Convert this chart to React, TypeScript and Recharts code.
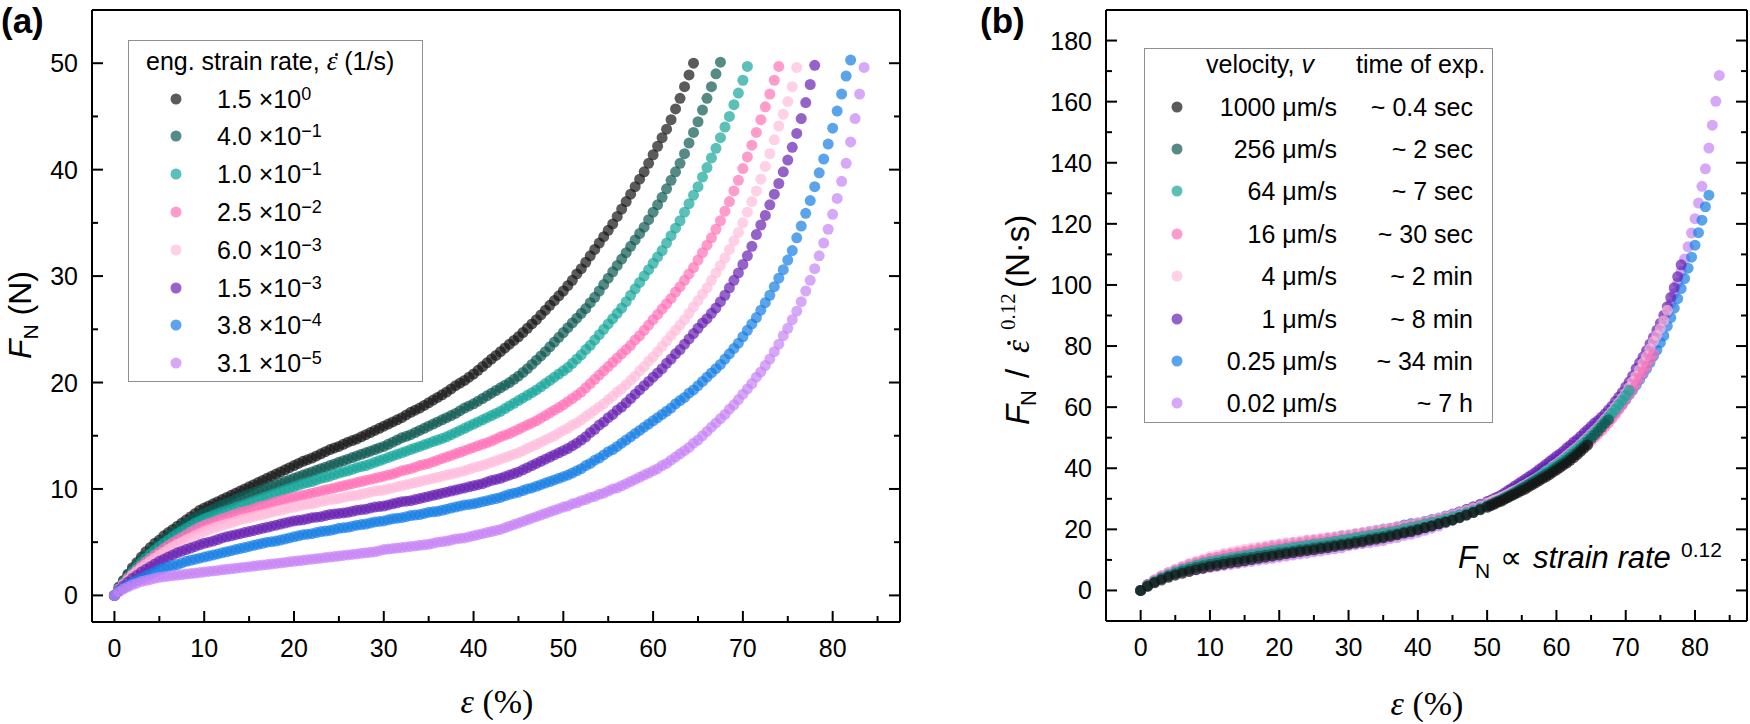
import React from "react";
import { Legend, Scatter, ScatterChart, XAxis, YAxis } from "recharts";

const SANS = "'Liberation Sans', Arial, sans-serif";
const SERIF = "'Liberation Serif', 'Times New Roman', serif";

// engineering strain (%) of each sample in panel (a)
const STRAIN_A = [
  0, 0.5, 1, 1.5, 2, 2.5, 3, 3.5, 4, 4.5, 5, 5.5, 6, 6.5, 7, 7.5, 8, 8.5, 9, 9.5,
  10, 10.5, 11, 11.5, 12, 12.5, 13, 13.5, 14, 14.5, 15, 15.5, 16, 16.5, 17, 17.5, 18, 18.5, 19, 19.5,
  20, 20.5, 21, 21.5, 22, 22.5, 23, 23.5, 24, 24.5, 25, 25.5, 26, 26.5, 27, 27.5, 28, 28.5, 29, 29.5,
  30, 30.5, 31, 31.5, 32, 32.5, 33, 33.5, 34, 34.5, 35, 35.5, 36, 36.5, 37, 37.5, 38, 38.5, 39, 39.5,
  40, 40.5, 41, 41.5, 42, 42.5, 43, 43.5, 44, 44.5, 45, 45.5, 46, 46.5, 47, 47.5, 48, 48.5, 49, 49.5,
  50, 50.5, 51, 51.5, 52, 52.5, 53, 53.5, 54, 54.5, 55, 55.5, 56, 56.5, 57, 57.5, 58, 58.5, 59, 59.5,
  60, 60.5, 61, 61.5, 62, 62.5, 63, 63.5, 64, 64.5, 65, 65.5, 66, 66.5, 67, 67.5, 68, 68.5, 69, 69.5,
  70, 70.5, 71, 71.5, 72, 72.5, 73, 73.5, 74, 74.5, 75, 75.5, 76, 76.5, 77, 77.5, 78, 78.5, 79, 79.5,
  80, 80.5, 81, 81.5, 82, 82.5, 83, 83.5,
];

// engineering strain (%) of each sample in panel (b)
const STRAIN_B = [
  0, 1, 2, 3, 4, 5, 6, 7, 8, 9, 10, 11, 12, 13, 14, 15, 16, 17, 18, 19, 20, 21, 22, 23, 24, 25, 26, 27, 28, 29, 30,
  31, 32, 33, 34, 35, 36, 37, 38, 39, 40, 41, 42, 43, 44, 45, 46, 47, 48, 49, 50,
  50.5, 51, 51.5, 52, 52.5, 53, 53.5, 54, 54.5, 55, 55.5, 56, 56.5, 57, 57.5, 58, 58.5, 59, 59.5, 60,
  60.5, 61, 61.5, 62, 62.5, 63, 63.5, 64, 64.5, 65, 65.5, 66, 66.5, 67, 67.5, 68, 68.5, 69, 69.5, 70,
  70.5, 71, 71.5, 72, 72.5, 73, 73.5, 74, 74.5, 75, 75.5, 76, 76.5, 77, 77.5, 78, 78.5, 79, 79.5, 80,
  80.5, 81, 81.5, 82, 82.5, 83, 83.5,
];

// panel (a): normal force F_N (N), one array per strain rate
const FORCE_1 = [
  0, 0.8, 1.4, 2.0, 2.6, 3.1, 3.6, 4.1, 4.5, 4.9, 5.2, 5.6, 5.9, 6.2, 6.5, 6.8, 7.1, 7.4, 7.7, 8.0, 8.2,
  8.4, 8.6, 8.8, 9.0, 9.2, 9.4, 9.6, 9.8, 10.0, 10.2, 10.4, 10.6, 10.8, 11.0, 11.2, 11.4, 11.6, 11.8, 12.0, 12.2,
  12.4, 12.6, 12.75, 12.9, 13.1, 13.3, 13.5, 13.7, 13.85, 14.0, 14.2, 14.4, 14.55, 14.7, 14.9, 15.1, 15.3, 15.5, 15.7, 15.9,
  16.1, 16.3, 16.5, 16.7, 16.95, 17.2, 17.4, 17.6, 17.85, 18.1, 18.35, 18.6, 18.85, 19.1, 19.4, 19.7, 19.95, 20.2, 20.5, 20.8,
  21.15, 21.5, 21.85, 22.2, 22.55, 22.9, 23.25, 23.6, 23.95, 24.3, 24.7, 25.1, 25.5, 25.9, 26.35, 26.8, 27.25, 27.7, 28.15, 28.6,
  29.1, 29.6, 30.2, 30.7, 31.3, 31.9, 32.5, 33.1, 33.7, 34.3, 34.9, 35.6, 36.3, 37.0, 37.7, 38.4, 39.1, 39.8, 40.6, 41.4,
  42.2, 43.0, 43.8, 44.7, 45.7, 46.7, 47.8, 48.9, 50.0,
];
const FORCE_2 = [
  0, 0.7, 1.3, 1.9, 2.4, 2.9, 3.4, 3.8, 4.2, 4.55, 4.9, 5.25, 5.6, 5.9, 6.2, 6.5, 6.8, 7.05, 7.3, 7.5, 7.7,
  7.9, 8.1, 8.3, 8.5, 8.65, 8.8, 9.0, 9.2, 9.35, 9.5, 9.65, 9.8, 9.95, 10.1, 10.25, 10.4, 10.55, 10.7, 10.85, 11.0,
  11.15, 11.3, 11.45, 11.6, 11.75, 11.9, 12.05, 12.2, 12.35, 12.5, 12.65, 12.8, 12.95, 13.1, 13.25, 13.4, 13.55, 13.7, 13.85, 14.0,
  14.2, 14.4, 14.6, 14.8, 14.95, 15.1, 15.3, 15.5, 15.7, 15.9, 16.1, 16.3, 16.5, 16.7, 16.9, 17.1, 17.35, 17.6, 17.8, 18.0,
  18.25, 18.5, 18.75, 19.0, 19.25, 19.5, 19.75, 20.0, 20.3, 20.6, 20.95, 21.3, 21.7, 22.1, 22.5, 22.9, 23.35, 23.8, 24.25, 24.7,
  25.15, 25.6, 26.05, 26.5, 26.95, 27.5, 28.0, 28.6, 29.2, 29.8, 30.4, 31.0, 31.6, 32.2, 32.8, 33.4, 34.0, 34.6, 35.3, 36.0,
  36.7, 37.4, 38.2, 39.0, 39.8, 40.6, 41.5, 42.5, 43.5, 44.5, 45.6, 46.7, 47.8, 49.0, 50.1,
];
const FORCE_3 = [
  0, 0.65, 1.2, 1.7, 2.2, 2.65, 3.1, 3.5, 3.9, 4.25, 4.6, 4.9, 5.2, 5.5, 5.8, 6.05, 6.3, 6.55, 6.8, 7.0, 7.2,
  7.35, 7.5, 7.65, 7.8, 7.95, 8.1, 8.25, 8.4, 8.55, 8.7, 8.85, 9.0, 9.15, 9.3, 9.45, 9.6, 9.75, 9.9, 10.05, 10.2,
  10.35, 10.5, 10.6, 10.7, 10.85, 11.0, 11.1, 11.2, 11.35, 11.5, 11.6, 11.7, 11.85, 12.0, 12.1, 12.2, 12.35, 12.5, 12.65, 12.8,
  12.95, 13.1, 13.25, 13.4, 13.55, 13.7, 13.85, 14.0, 14.15, 14.3, 14.45, 14.6, 14.75, 14.9, 15.1, 15.3, 15.5, 15.7, 15.9, 16.1,
  16.3, 16.5, 16.7, 16.9, 17.1, 17.3, 17.55, 17.8, 18.05, 18.3, 18.55, 18.8, 19.05, 19.3, 19.6, 19.9, 20.2, 20.5, 20.8, 21.1,
  21.4, 21.8, 22.2, 22.6, 23.1, 23.5, 24.0, 24.5, 25.0, 25.5, 26.0, 26.5, 27.0, 27.6, 28.2, 28.8, 29.4, 30.0, 30.6, 31.2,
  31.8, 32.4, 33.1, 33.8, 34.5, 35.2, 36.0, 36.8, 37.6, 38.4, 39.3, 40.2, 41.1, 42.0, 43.0, 44.0, 45.0, 46.1, 47.2, 48.4,
  49.7,
];
const FORCE_4 = [
  0, 0.6, 1.1, 1.6, 2.0, 2.4, 2.8, 3.15, 3.5, 3.8, 4.1, 4.4, 4.7, 4.95, 5.2, 5.45, 5.7, 5.95, 6.2, 6.4, 6.6,
  6.75, 6.9, 7.05, 7.2, 7.35, 7.5, 7.65, 7.8, 7.9, 8.0, 8.15, 8.3, 8.4, 8.5, 8.65, 8.8, 8.9, 9.0, 9.1, 9.2,
  9.3, 9.4, 9.5, 9.6, 9.7, 9.8, 9.9, 10.0, 10.1, 10.2, 10.3, 10.4, 10.5, 10.6, 10.7, 10.8, 10.9, 11.0, 11.1, 11.2,
  11.3, 11.4, 11.55, 11.7, 11.8, 11.9, 12.05, 12.2, 12.3, 12.4, 12.55, 12.7, 12.85, 13.0, 13.15, 13.3, 13.45, 13.6, 13.75, 13.9,
  14.05, 14.2, 14.35, 14.5, 14.7, 14.9, 15.05, 15.2, 15.4, 15.6, 15.8, 16.0, 16.2, 16.4, 16.65, 16.9, 17.15, 17.4, 17.65, 17.9,
  18.2, 18.5, 18.8, 19.1, 19.5, 19.9, 20.3, 20.7, 21.1, 21.5, 21.9, 22.3, 22.7, 23.1, 23.5, 24.0, 24.4, 24.9, 25.4, 25.9,
  26.4, 26.9, 27.4, 27.9, 28.5, 29.0, 29.6, 30.2, 30.8, 31.5, 32.2, 32.9, 33.6, 34.4, 35.2, 36.1, 37.0, 38.0, 39.0, 40.1,
  41.2, 42.3, 43.5, 44.7, 45.9, 47.1, 48.4, 49.7,
];
const FORCE_5 = [
  0, 0.55, 1.0, 1.45, 1.9, 2.25, 2.6, 2.9, 3.2, 3.5, 3.8, 4.05, 4.3, 4.55, 4.8, 5.0, 5.2, 5.4, 5.6, 5.8, 6.0,
  6.15, 6.3, 6.45, 6.6, 6.7, 6.8, 6.95, 7.1, 7.2, 7.3, 7.4, 7.5, 7.6, 7.7, 7.8, 7.9, 8.0, 8.1, 8.2, 8.3,
  8.4, 8.5, 8.55, 8.6, 8.7, 8.8, 8.9, 9.0, 9.05, 9.1, 9.2, 9.3, 9.35, 9.4, 9.5, 9.6, 9.7, 9.8, 9.85, 9.9,
  10.0, 10.1, 10.2, 10.3, 10.4, 10.5, 10.6, 10.7, 10.8, 10.9, 11.0, 11.1, 11.2, 11.3, 11.4, 11.5, 11.6, 11.7, 11.85, 12.0,
  12.1, 12.2, 12.35, 12.5, 12.65, 12.8, 12.95, 13.1, 13.25, 13.4, 13.6, 13.8, 14.0, 14.2, 14.4, 14.6, 14.8, 15.0, 15.25, 15.5,
  15.7, 16.0, 16.2, 16.5, 16.8, 17.1, 17.4, 17.7, 18.0, 18.4, 18.7, 19.1, 19.4, 19.8, 20.2, 20.6, 21.1, 21.5, 22.0, 22.4,
  22.9, 23.4, 23.9, 24.4, 24.9, 25.4, 25.9, 26.5, 27.1, 27.7, 28.3, 28.9, 29.6, 30.3, 31.0, 31.7, 32.5, 33.3, 34.1, 35.0,
  36.0, 37.0, 38.0, 39.1, 40.3, 41.5, 42.8, 44.1, 45.2, 46.4, 47.8, 49.6,
];
const FORCE_6 = [
  0, 0.5, 0.9, 1.25, 1.6, 1.9, 2.2, 2.45, 2.7, 2.95, 3.2, 3.4, 3.6, 3.8, 4.0, 4.15, 4.3, 4.45, 4.6, 4.75, 4.9,
  5.0, 5.1, 5.25, 5.4, 5.5, 5.6, 5.7, 5.8, 5.9, 6.0, 6.1, 6.2, 6.3, 6.4, 6.5, 6.6, 6.7, 6.8, 6.9, 7.0,
  7.05, 7.1, 7.2, 7.3, 7.35, 7.4, 7.5, 7.6, 7.65, 7.7, 7.75, 7.8, 7.9, 8.0, 8.05, 8.1, 8.2, 8.3, 8.35, 8.4,
  8.5, 8.6, 8.7, 8.8, 8.85, 8.9, 9.0, 9.1, 9.2, 9.3, 9.4, 9.5, 9.6, 9.7, 9.8, 9.9, 10.0, 10.1, 10.2, 10.3,
  10.4, 10.5, 10.65, 10.8, 10.9, 11.0, 11.15, 11.3, 11.45, 11.6, 11.8, 12.0, 12.2, 12.4, 12.6, 12.8, 13.0, 13.2, 13.4, 13.6,
  13.8, 14.05, 14.3, 14.6, 14.9, 15.3, 15.6, 16.0, 16.3, 16.7, 17.0, 17.4, 17.7, 18.1, 18.5, 18.9, 19.3, 19.7, 20.1, 20.5,
  20.9, 21.3, 21.8, 22.2, 22.7, 23.1, 23.6, 24.1, 24.6, 25.1, 25.6, 26.0, 26.5, 27.0, 27.6, 28.2, 28.9, 29.6, 30.3, 31.1,
  31.9, 32.8, 33.9, 34.8, 35.7, 36.7, 37.7, 38.7, 39.8, 40.9, 42.1, 43.4, 44.8, 46.3, 48.0, 49.8,
];
const FORCE_7 = [
  0, 0.4, 0.7, 0.95, 1.2, 1.4, 1.6, 1.8, 2.0, 2.2, 2.4, 2.55, 2.7, 2.8, 2.9, 3.05, 3.2, 3.3, 3.4, 3.5, 3.6,
  3.7, 3.8, 3.9, 4.0, 4.1, 4.2, 4.3, 4.4, 4.5, 4.6, 4.7, 4.8, 4.9, 5.0, 5.05, 5.1, 5.2, 5.3, 5.4, 5.5,
  5.6, 5.7, 5.75, 5.8, 5.9, 6.0, 6.05, 6.1, 6.2, 6.3, 6.35, 6.4, 6.5, 6.6, 6.65, 6.7, 6.8, 6.9, 6.95, 7.0,
  7.1, 7.2, 7.25, 7.3, 7.4, 7.5, 7.55, 7.6, 7.7, 7.8, 7.85, 7.9, 8.0, 8.1, 8.2, 8.3, 8.4, 8.5, 8.55, 8.6,
  8.7, 8.8, 8.9, 9.0, 9.1, 9.2, 9.35, 9.5, 9.6, 9.7, 9.85, 10.0, 10.1, 10.25, 10.4, 10.55, 10.7, 10.85, 11.0, 11.15,
  11.3, 11.5, 11.7, 11.9, 12.2, 12.4, 12.7, 12.9, 13.2, 13.5, 13.7, 14.0, 14.3, 14.6, 14.9, 15.2, 15.5, 15.8, 16.1, 16.4,
  16.7, 17.0, 17.3, 17.6, 18.0, 18.3, 18.6, 19.0, 19.3, 19.7, 20.1, 20.5, 20.9, 21.3, 21.7, 22.2, 22.7, 23.2, 23.7, 24.3,
  24.9, 25.5, 26.1, 26.8, 27.5, 28.2, 29.0, 29.8, 30.6, 31.5, 32.4, 33.6, 34.7, 35.9, 37.1, 38.4, 39.7, 41.0, 42.4, 43.9,
  45.5, 47.1, 48.8, 50.3,
];
const FORCE_8 = [
  0, 0.35, 0.6, 0.8, 1.0, 1.15, 1.3, 1.4, 1.5, 1.6, 1.7, 1.75, 1.8, 1.85, 1.9, 1.95, 2.0, 2.05, 2.1, 2.15, 2.2,
  2.25, 2.3, 2.35, 2.4, 2.45, 2.5, 2.55, 2.6, 2.65, 2.7, 2.75, 2.8, 2.85, 2.9, 2.95, 3.0, 3.05, 3.1, 3.15, 3.2,
  3.25, 3.3, 3.35, 3.4, 3.45, 3.5, 3.55, 3.6, 3.65, 3.7, 3.75, 3.8, 3.85, 3.9, 3.95, 4.0, 4.05, 4.1, 4.2, 4.3,
  4.35, 4.4, 4.45, 4.5, 4.55, 4.6, 4.65, 4.7, 4.75, 4.8, 4.9, 5.0, 5.05, 5.1, 5.2, 5.3, 5.35, 5.4, 5.5, 5.6,
  5.7, 5.8, 5.9, 6.0, 6.1, 6.2, 6.35, 6.5, 6.65, 6.8, 6.95, 7.1, 7.25, 7.4, 7.55, 7.7, 7.85, 8.0, 8.15, 8.3,
  8.4, 8.6, 8.7, 8.9, 9.0, 9.2, 9.3, 9.5, 9.6, 9.8, 10.0, 10.1, 10.3, 10.5, 10.7, 10.9, 11.1, 11.3, 11.5, 11.7,
  11.9, 12.2, 12.4, 12.7, 13.0, 13.3, 13.6, 13.9, 14.3, 14.6, 15.0, 15.4, 15.8, 16.2, 16.6, 17.0, 17.5, 17.9, 18.4, 18.9,
  19.4, 19.9, 20.5, 21.0, 21.6, 22.2, 22.9, 23.6, 24.4, 25.1, 25.9, 26.7, 27.6, 28.6, 29.6, 30.7, 31.9, 33.1, 34.4, 35.8,
  37.3, 38.9, 40.6, 42.6, 44.8, 47.1, 49.6,
];

// panel (b): F_N / strain-rate^0.12 (N·s), one array per run
const NORM_1 = [
  0, 1.3, 2.5, 3.4, 4.3, 5.0, 5.6, 6.2, 6.8, 7.3, 7.8, 8.2, 8.6, 9.0, 9.3, 9.7, 10.1, 10.5, 10.9, 11.2, 11.6,
  12.0, 12.3, 12.7, 13.0, 13.3, 13.7, 14.0, 14.4, 14.8, 15.1, 15.5, 15.9, 16.4, 16.8, 17.2, 17.7, 18.2, 18.8, 19.2, 19.8,
  20.5, 21.1, 21.8, 22.5, 23.1, 23.9, 24.7, 25.5, 26.4, 27.2,
  27.7, 28.2, 28.8, 29.2, 29.8, 30.4, 31.0, 31.5, 32.1, 32.7, 33.2, 33.9, 34.6, 35.2, 35.9, 36.6, 37.2, 37.9, 38.7, 39.4,
  40.2, 41.0, 41.7, 42.6, 43.5, 44.5, 45.5, 46.6, 47.6,
];
const NORM_2 = [
  0, 1.5, 2.7, 3.8, 4.7, 5.5, 6.3, 6.9, 7.6, 8.1, 8.6, 9.0, 9.5, 9.8, 10.3, 10.6, 10.9, 11.3, 11.6, 11.9, 12.3,
  12.6, 12.9, 13.3, 13.6, 14.0, 14.3, 14.6, 15.0, 15.3, 15.6, 16.1, 16.5, 16.9, 17.3, 17.7, 18.2, 18.6, 19.1, 19.6, 20.1,
  20.6, 21.2, 21.8, 22.3, 23.0, 23.8, 24.7, 25.6, 26.6, 27.6,
  28.1, 28.6, 29.1, 29.6, 30.1, 30.7, 31.3, 31.9, 32.6, 33.3, 33.9, 34.6, 35.3, 35.9, 36.6, 37.3, 38.0, 38.6, 39.4, 40.2,
  41.0, 41.7, 42.6, 43.5, 44.4, 45.3, 46.3, 47.4, 48.6, 49.7, 50.9, 52.1, 53.4, 54.7, 55.9,
];
const NORM_3 = [
  0, 1.6, 2.9, 4.1, 5.1, 6.1, 6.9, 7.6, 8.3, 9.0, 9.5, 9.9, 10.3, 10.7, 11.1, 11.5, 11.9, 12.3, 12.7, 13.1, 13.4,
  13.8, 14.1, 14.5, 14.8, 15.2, 15.4, 15.8, 16.1, 16.5, 16.9, 17.3, 17.7, 18.1, 18.5, 18.9, 19.2, 19.6, 20.2, 20.7, 21.2,
  21.8, 22.3, 22.8, 23.5, 24.1, 24.8, 25.4, 26.2, 27.0, 27.8,
  28.2, 28.7, 29.3, 29.8, 30.5, 31.0, 31.6, 32.3, 33.0, 33.6, 34.3, 34.9, 35.6, 36.4, 37.2, 38.0, 38.8, 39.6, 40.3, 41.1,
  41.9, 42.7, 43.6, 44.6, 45.5, 46.4, 47.5, 48.5, 49.6, 50.6, 51.8, 53.0, 54.2, 55.4, 56.7, 58.0, 59.3, 60.8, 62.2, 63.8,
  65.5,
];
const NORM_4 = [
  0, 1.7, 3.1, 4.4, 5.4, 6.4, 7.3, 8.1, 8.9, 9.7, 10.3, 10.7, 11.2, 11.7, 12.1, 12.5, 12.9, 13.2, 13.7, 14.0, 14.3,
  14.6, 14.9, 15.3, 15.6, 15.9, 16.2, 16.5, 16.8, 17.1, 17.4, 17.7, 18.2, 18.5, 19.0, 19.3, 19.8, 20.2, 20.7, 21.2, 21.6,
  22.1, 22.6, 23.2, 23.7, 24.3, 24.9, 25.5, 26.3, 27.1, 27.9,
  28.3, 28.8, 29.3, 29.7, 30.4, 31.0, 31.6, 32.2, 32.9, 33.5, 34.1, 34.7, 35.3, 36.0, 36.6, 37.4, 38.0, 38.8, 39.5, 40.3,
  41.1, 41.9, 42.7, 43.4, 44.4, 45.2, 46.1, 47.0, 48.0, 49.0, 50.1, 51.2, 52.3, 53.6, 54.8, 56.2, 57.6, 59.2, 60.7, 62.4,
  64.1, 65.9, 67.7, 69.6, 71.5, 73.3, 75.4, 77.4,
];
const NORM_5 = [
  0, 1.8, 3.5, 4.8, 5.9, 7.0, 7.9, 8.9, 9.6, 10.3, 11.1, 11.6, 12.2, 12.6, 13.1, 13.5, 13.9, 14.2, 14.6, 15.0, 15.3,
  15.7, 15.9, 16.3, 16.6, 16.8, 17.2, 17.4, 17.7, 18.1, 18.3, 18.7, 19.0, 19.4, 19.8, 20.1, 20.5, 20.9, 21.2, 21.6, 22.2,
  22.5, 23.1, 23.7, 24.2, 24.8, 25.5, 26.2, 27.0, 27.7, 28.6,
  29.0, 29.6, 29.9, 30.5, 31.0, 31.6, 32.2, 32.7, 33.3, 34.0, 34.6, 35.3, 35.9, 36.6, 37.3, 38.1, 39.0, 39.7, 40.7, 41.4,
  42.3, 43.2, 44.2, 45.1, 46.0, 46.9, 47.9, 49.0, 50.1, 51.2, 52.3, 53.4, 54.7, 56.0, 57.3, 58.6, 60.1, 61.5, 63.0, 64.7,
  66.5, 68.4, 70.2, 72.3, 74.5, 76.7, 79.1, 81.5, 83.5, 85.7, 88.3, 91.7,
];
const NORM_6 = [
  0, 1.9, 3.4, 4.7, 5.8, 6.8, 7.7, 8.6, 9.2, 9.8, 10.5, 10.9, 11.6, 12.0, 12.4, 12.8, 13.3, 13.7, 14.1, 14.6, 15.0,
  15.2, 15.6, 15.8, 16.3, 16.5, 16.7, 17.1, 17.3, 17.8, 18.0, 18.4, 18.8, 19.0, 19.5, 19.9, 20.3, 20.8, 21.2, 21.6, 22.0,
  22.5, 23.1, 23.5, 24.2, 24.8, 25.7, 26.5, 27.4, 28.2, 29.1,
  29.5, 30.1, 30.6, 31.2, 31.9, 32.7, 33.4, 34.2, 34.9, 35.7, 36.4, 37.2, 37.9, 38.7, 39.6, 40.4, 41.3, 42.2, 43.0, 43.9,
  44.7, 45.6, 46.7, 47.5, 48.6, 49.4, 50.5, 51.6, 52.6, 53.7, 54.8, 55.6, 56.7, 57.8, 59.1, 60.3, 61.9, 63.3, 64.8, 66.6,
  68.3, 70.2, 72.6, 74.5, 76.4, 78.5, 80.7, 82.8, 85.2, 87.5, 90.1, 92.9, 95.9, 99.1, 102.7, 106.6,
];
const NORM_7 = [
  0, 1.8, 3.1, 4.1, 5.1, 6.2, 6.9, 7.5, 8.2, 8.7, 9.3, 9.8, 10.3, 10.8, 11.3, 11.8, 12.4, 12.9, 13.1, 13.6, 14.2,
  14.7, 14.9, 15.4, 15.7, 16.2, 16.5, 17.0, 17.2, 17.8, 18.0, 18.5, 18.8, 19.3, 19.6, 20.1, 20.3, 20.8, 21.4, 21.9, 22.1,
  22.6, 23.2, 23.7, 24.4, 25.0, 25.7, 26.4, 27.1, 27.9, 28.7,
  29.1, 29.6, 30.1, 30.6, 31.4, 31.9, 32.7, 33.2, 34.0, 34.7, 35.3, 36.0, 36.8, 37.6, 38.3, 39.1, 39.9, 40.7, 41.4, 42.2,
  43.0, 43.7, 44.5, 45.3, 46.3, 47.1, 47.9, 48.9, 49.7, 50.7, 51.7, 52.7, 53.8, 54.8, 55.8, 57.1, 58.4, 59.7, 61.0, 62.5,
  64.1, 65.6, 67.2, 69.0, 70.8, 72.6, 74.6, 76.7, 78.7, 81.1, 83.4, 86.5, 89.3, 92.4, 95.5, 98.8, 102.1, 105.5, 109.1, 113.0,
  117.1, 121.2, 125.6, 129.4,
];
const NORM_8 = [
  0, 2.0, 3.4, 4.4, 5.1, 5.8, 6.1, 6.5, 6.8, 7.1, 7.5, 7.8, 8.2, 8.5, 8.8, 9.2, 9.5, 9.9, 10.2, 10.5, 10.9,
  11.2, 11.6, 11.9, 12.2, 12.6, 12.9, 13.3, 13.6, 13.9, 14.6, 15.0, 15.3, 15.6, 16.0, 16.3, 17.0, 17.3, 18.0, 18.4, 19.0,
  19.7, 20.4, 21.1, 22.1, 23.1, 24.1, 25.2, 26.2, 27.2, 28.2,
  28.6, 29.2, 29.6, 30.3, 30.6, 31.3, 31.6, 32.3, 32.6, 33.3, 34.0, 34.3, 35.0, 35.7, 36.4, 37.1, 37.7, 38.4, 39.1, 39.8,
  40.5, 41.5, 42.2, 43.2, 44.2, 45.2, 46.2, 47.3, 48.6, 49.6, 51.0, 52.4, 53.7, 55.1, 56.4, 57.8, 59.5, 60.9, 62.6, 64.3,
  66.0, 67.7, 69.7, 71.4, 73.4, 75.5, 77.9, 80.2, 83.0, 85.3, 88.1, 90.8, 93.8, 97.2, 100.6, 104.4, 108.5, 112.5, 117.0, 121.7,
  126.8, 132.3, 138.0, 144.8, 152.3, 160.1, 168.6,
];

const FORCE = [FORCE_1, FORCE_2, FORCE_3, FORCE_4, FORCE_5, FORCE_6, FORCE_7, FORCE_8];
const NORM = [NORM_1, NORM_2, NORM_3, NORM_4, NORM_5, NORM_6, NORM_7, NORM_8];

const RATE_MANTISSA = ["1.5", "4.0", "1.0", "2.5", "6.0", "1.5", "3.8", "3.1"];
const RATE_EXPONENT = ["0", "\u22121", "\u22121", "\u22122", "\u22123", "\u22123", "\u22124", "\u22125"];
const VELOCITY = ["1000", "256", "64", "16", "4", "1", "0.25", "0.02"];
const EXP_TIME = ["~ 0.4 sec", "~ 2 sec", "~ 7 sec", "~ 30 sec", "~ 2 min", "~ 8 min", "~ 34 min", "~ 7 h"];
const COLORS = ["#161616", "#0e5951", "#16a59a", "#ff72b6", "#ffbcdb", "#661fb1", "#147ee4", "#c783f5"];

const X_TICKS = [0, 5, 10, 15, 20, 25, 30, 35, 40, 45, 50, 55, 60, 65, 70, 75, 80, 85];
const Y_TICKS_A = [0, 5, 10, 15, 20, 25, 30, 35, 40, 45, 50];
const Y_TICKS_B = [0, 10, 20, 30, 40, 50, 60, 70, 80, 90, 100, 110, 120, 130, 140, 150, 160, 170, 180];

const AXIS_LINE = { stroke: "#000", strokeWidth: 2 };
const DOT_R = 5.5;
const DOT_OPACITY = 0.7;

const rows = (grid: number[], values: number[]) => values.map((y, i) => ({ x: grid[i], y }));

// ticks point into the frame; labels only on bottom and left
function FrameTick(props: any) {
  const { x, y, payload, side, step, label } = props;
  const v = payload.value;
  const major = Math.abs(v / step - Math.round(v / step)) < 1e-6;
  const len = major ? 11 : 6;
  let end = [x, y - len];
  if (side === "top") end = [x, y + len];
  if (side === "left") end = [x + len, y];
  if (side === "right") end = [x - len, y];
  return (
    <g>
      <line x1={x} y1={y} x2={end[0]} y2={end[1]} stroke="#000" strokeWidth={2} />
      {label && major && side === "bottom" && (
        <text x={x} y={y + 35} textAnchor="middle" fontFamily={SANS} fontSize={25} fill="#000">
          {v}
        </text>
      )}
      {label && major && side === "left" && (
        <text x={x - 14} y={y + 9} textAnchor="end" fontFamily={SANS} fontSize={25} fill="#000">
          {v}
        </text>
      )}
    </g>
  );
}

// epsilon with an over-dot (strain rate); the dot is a drawn spot, not a glyph
function EpsDot({ size }: { size: number }) {
  return (
    <span style={{ position: "relative", fontFamily: SERIF, fontStyle: "italic", fontSize: size }}>
      {"\u03b5"}
      <span
        style={{
          position: "absolute",
          left: size * 0.3,
          top: size * 0.26,
          width: 3,
          height: 3,
          borderRadius: "50%",
          background: "#000",
        }}
      />
    </span>
  );
}

function RateLegend() {
  return (
    <div
      style={{
        position: "relative",
        width: 295,
        height: 342,
        boxSizing: "border-box",
        border: "1.5px solid #8f8f8f",
        background: "#fff",
        fontFamily: SANS,
        fontSize: 25,
        color: "#000",
        lineHeight: "30px",
      }}
    >
      <div style={{ position: "absolute", left: 17, top: 5, whiteSpace: "nowrap" }}>
        eng. strain rate, <EpsDot size={27} /> (1/s)
      </div>
      {RATE_MANTISSA.map((m, i) => (
        <div key={m + i} style={{ position: "absolute", left: 0, top: 42.5 + i * 37.8, width: 290, height: 30 }}>
          <svg width={12} height={12} style={{ position: "absolute", left: 41, top: 9 }}>
            <circle cx={6} cy={6} r={DOT_R} fill={COLORS[i]} fillOpacity={DOT_OPACITY} />
          </svg>
          <span style={{ position: "absolute", left: 88, whiteSpace: "nowrap" }}>
            {m} {"\u00d7"}10
            <span style={{ fontSize: 18, position: "relative", top: -8 }}>{RATE_EXPONENT[i]}</span>
          </span>
        </div>
      ))}
    </div>
  );
}

function VelocityLegend() {
  return (
    <div
      style={{
        position: "relative",
        width: 349,
        height: 375,
        boxSizing: "border-box",
        border: "1.5px solid #8f8f8f",
        background: "#fff",
        fontFamily: SANS,
        fontSize: 25,
        color: "#000",
        lineHeight: "30px",
      }}
    >
      <div style={{ position: "absolute", left: 61, top: 0, whiteSpace: "nowrap" }}>
        velocity, <span style={{ fontStyle: "italic" }}>v</span>
      </div>
      <div style={{ position: "absolute", left: 211, top: 0, whiteSpace: "nowrap" }}>time of exp.</div>
      {VELOCITY.map((v, i) => (
        <div key={v} style={{ position: "absolute", left: 0, top: 42.5 + i * 42.4, width: 346, height: 30 }}>
          <svg width={12} height={12} style={{ position: "absolute", left: 25.5, top: 9 }}>
            <circle cx={6} cy={6} r={DOT_R} fill={COLORS[i]} fillOpacity={DOT_OPACITY} />
          </svg>
          <span style={{ position: "absolute", left: 0, width: 192, textAlign: "right", whiteSpace: "nowrap" }}>
            {v} {"\u03bc"}m/s
          </span>
          <span style={{ position: "absolute", left: 0, width: 328, textAlign: "right", whiteSpace: "nowrap" }}>
            {EXP_TIME[i]}
          </span>
        </div>
      ))}
    </div>
  );
}

type PanelProps = {
  left: number;
  width: number;
  margin: { top: number; right: number; bottom: number; left: number };
  rightWidth: number;
  xDomain: [number, number];
  yDomain: [number, number];
  yTicks: number[];
  yStep: number;
  grid: number[];
  data: number[][];
  order: number[];
  legend: React.ReactElement;
  legendPos: { left: number; top: number };
};

function Panel(p: PanelProps) {
  return (
    <div style={{ position: "absolute", left: p.left, top: 0 }}>
      <ScatterChart width={p.width} height={724} margin={p.margin}>
        <XAxis
          dataKey="x"
          type="number"
          domain={p.xDomain}
          ticks={X_TICKS}
          interval={0}
          allowDataOverflow
          height={60}
          tickSize={0}
          tickMargin={0}
          tickLine={false}
          axisLine={AXIS_LINE}
          tick={(t: any) => <FrameTick {...t} side="bottom" step={10} label />}
        />
        <XAxis
          xAxisId="top"
          orientation="top"
          type="number"
          domain={p.xDomain}
          ticks={X_TICKS}
          interval={0}
          allowDataOverflow
          height={10}
          tickSize={0}
          tickMargin={0}
          tickLine={false}
          axisLine={AXIS_LINE}
          tick={(t: any) => <FrameTick {...t} side="top" step={10} />}
        />
        <YAxis
          dataKey="y"
          type="number"
          domain={p.yDomain}
          ticks={p.yTicks}
          interval={0}
          allowDataOverflow
          width={60}
          tickSize={0}
          tickMargin={0}
          tickLine={false}
          axisLine={AXIS_LINE}
          tick={(t: any) => <FrameTick {...t} side="left" step={p.yStep} label />}
        />
        <YAxis
          yAxisId="right"
          orientation="right"
          type="number"
          domain={p.yDomain}
          ticks={p.yTicks}
          interval={0}
          allowDataOverflow
          width={p.rightWidth}
          tickSize={0}
          tickMargin={0}
          tickLine={false}
          axisLine={AXIS_LINE}
          tick={(t: any) => <FrameTick {...t} side="right" step={p.yStep} />}
        />
        {p.order.map((i) => (
          <Scatter
            key={i}
            name={VELOCITY[i]}
            data={rows(p.grid, p.data[i])}
            fill={COLORS[i]}
            isAnimationActive={false}
            shape={(s: any) => (
              <circle cx={s.cx} cy={s.cy} r={DOT_R} fill={COLORS[i]} fillOpacity={DOT_OPACITY} />
            )}
          />
        ))}
        <Legend
          layout="vertical"
          align="center"
          verticalAlign="middle"
          wrapperStyle={{ left: p.legendPos.left, top: p.legendPos.top }}
          content={() => p.legend}
        />
      </ScatterChart>
    </div>
  );
}

export default function App() {
  return (
    <div style={{ position: "absolute", left: 0, top: 0, width: 1750, height: 724, background: "#fff" }}>
      <Panel
        left={0}
        width={910}
        margin={{ top: 0, right: 0, bottom: 42, left: 32 }}
        rightWidth={10}
        xDomain={[-2.5, 87.5]}
        yDomain={[-2.5, 55]}
        yTicks={Y_TICKS_A}
        yStep={10}
        grid={STRAIN_A}
        data={FORCE}
        order={[0, 1, 2, 3, 4, 5, 6, 7]}
        legend={<RateLegend />}
        legendPos={{ left: 128, top: 40 }}
      />
      <Panel
        left={910}
        width={840}
        margin={{ top: 0, right: 0, bottom: 43, left: 136 }}
        rightWidth={3}
        xDomain={[-5, 87.5]}
        yDomain={[-10, 190]}
        yTicks={Y_TICKS_B}
        yStep={20}
        grid={STRAIN_B}
        data={NORM}
        order={[7, 6, 5, 4, 3, 2, 1, 0]}
        legend={<VelocityLegend />}
        legendPos={{ left: 234, top: 48 }}
      />
      <svg
        width={1750}
        height={724}
        style={{ position: "absolute", left: 0, top: 0, pointerEvents: "none" }}
      >
        <text x={1} y={33} fontFamily={SANS} fontWeight="bold" fontSize={35}>
          (a)
        </text>
        <text x={980} y={33} fontFamily={SANS} fontWeight="bold" fontSize={35}>
          (b)
        </text>
        <text transform="translate(31 315) rotate(-90)" textAnchor="middle" fontFamily={SANS} fontSize={32}>
          <tspan fontStyle="italic">F</tspan>
          <tspan fontSize={21} dy={7}>
            N
          </tspan>
          <tspan dy={-7}> (N)</tspan>
        </text>
        <g transform="translate(1029 425) rotate(-90)">
          <text fontFamily={SANS} fontSize={33}>
            <tspan x={0} fontStyle="italic">
              F
            </tspan>
            <tspan x={19} dy={7} fontSize={22}>
              N
            </tspan>
            <tspan x={47} dy={-7}>
              /
            </tspan>
            <tspan x={72} fontFamily={SERIF} fontStyle="italic">
              {"\u03b5"}
            </tspan>
            <tspan x={95} dy={-14} fontFamily={SERIF} fontSize={21}>
              0.12
            </tspan>
            <tspan x={137} dy={14}>
              (N{"\u00b7"}s)
            </tspan>
          </text>
          <circle cx={82} cy={-20} r={1.9} fill="#000" />
        </g>
        <text x={497} y={713} textAnchor="middle" fontFamily={SERIF} fontSize={34}>
          <tspan fontStyle="italic">{"\u03b5"}</tspan> (%)
        </text>
        <text x={1427} y={715} textAnchor="middle" fontFamily={SERIF} fontSize={34}>
          <tspan fontStyle="italic">{"\u03b5"}</tspan> (%)
        </text>
        <text y={568} fontFamily={SANS} fontSize={31}>
          <tspan x={1458} fontStyle="italic">
            F
          </tspan>
          <tspan x={1475} dy={10} fontSize={21}>
            N
          </tspan>
          <tspan x={1500} dy={-10}>
            {"\u221d"}
          </tspan>
          <tspan x={1533} fontStyle="italic">
            strain rate
          </tspan>
          <tspan x={1681} dy={-11} fontSize={21}>
            0.12
          </tspan>
        </text>
      </svg>
    </div>
  );
}
